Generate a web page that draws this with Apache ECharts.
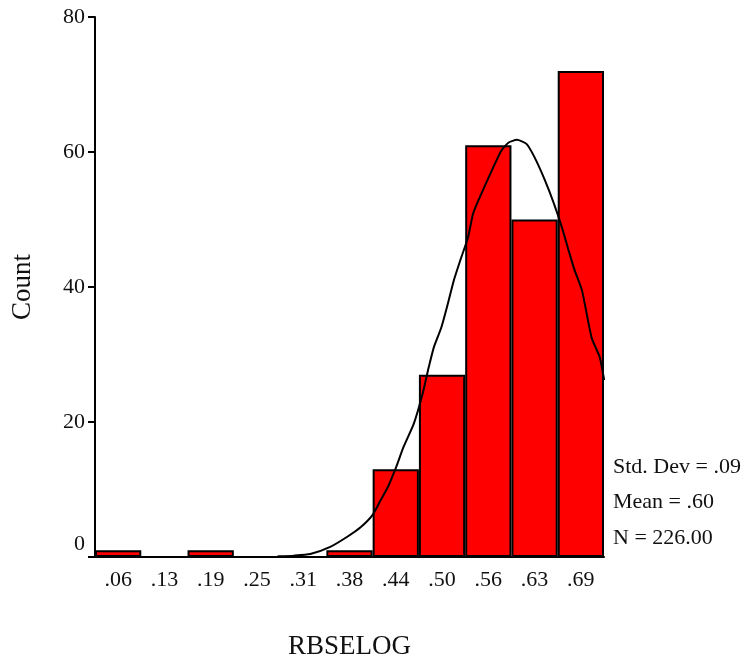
<!DOCTYPE html>
<html>
<head>
<meta charset="utf-8">
<script src="https://cdn.jsdelivr.net/npm/echarts@6/dist/echarts.min.js"></script>
<style>
  html, body { margin: 0; padding: 0; background: #fff; }
  #chart { width: 746px; height: 657px; }
</style>
</head>
<body>
<div id="chart"></div>
<script>
// bin labels (bin width .0625)
const bins = ['.06', '.13', '.19', '.25', '.31', '.38', '.44', '.50', '.56', '.63', '.69']
const counts = [1, 0, 1, 0, 0, 1, 13, 27, 61, 50, 72]

// normal curve
const curveX = [0.278, 0.300, 0.322, 0.349, 0.372, 0.390, 0.406, 0.417, 0.427, 0.438, 0.448, 0.462,
  0.474, 0.482, 0.489, 0.499, 0.508, 0.516, 0.526, 0.535, 0.542, 0.553, 0.567, 0.580, 0.590,
  0.601, 0.614, 0.625, 0.639, 0.651, 0.662, 0.671, 0.679, 0.689, 0.702, 0.713, 0.719]
const curveY = [0.1, 0.2, 0.44, 1.5, 3.0, 4.4, 6.2, 8.4, 10.4, 13.3, 16.3, 19.8,
  24.3, 28.1, 31.1, 34.0, 37.6, 41.0, 44.4, 47.3, 50.9, 53.8, 57.2, 60.2, 61.4,
  61.8, 61.2, 59.2, 55.8, 52.4, 48.8, 45.4, 42.5, 39.5, 32.5, 29.6, 26.2]

const stats = ['Std. Dev = .09', 'Mean = .60', 'N = 226.00']

const FONT = '"Liberation Serif", "Times New Roman", serif'
const chart = echarts.init(document.getElementById('chart'))

const option = {
  animation: false,
  backgroundColor: '#fff',
  grid: {
    left: 95,
    right: 142,
    top: 17,
    bottom: 100,
    outerBoundsMode: 'none'
  },
  xAxis: [{
    type: 'category',
    data: bins,
    boundaryGap: true,
    name: 'RBSELOG',
    nameLocation: 'middle',
    nameGap: 76,
    nameTextStyle: { fontFamily: FONT, fontSize: 27, color: '#111' },
    axisLine: { lineStyle: { color: '#000', width: 2 } },
    axisTick: { alignWithLabel: true, length: 6, lineStyle: { color: '#000', width: 2 } },
    axisLabel: { fontFamily: FONT, fontSize: 22, color: '#111', margin: 12 }
  }, {
    type: 'value',
    min: 0.03125,
    max: 0.71875,
    show: false
  }],
  yAxis: {
    type: 'value',
    min: 0,
    max: 80,
    interval: 20,
    name: 'Count',
    nameLocation: 'middle',
    nameGap: 59,
    nameTextStyle: { fontFamily: FONT, fontSize: 27, color: '#111' },
    axisLine: { show: true, lineStyle: { color: '#000', width: 2 } },
    axisTick: { show: true, length: 7, lineStyle: { color: '#000', width: 2 } },
    splitLine: { show: false },
    axisLabel: {
      fontFamily: FONT,
      fontSize: 22,
      color: '#111',
      margin: 10,
      formatter: v => v === 0 ? '{z|0}' : String(v),
      rich: {
        z: { fontFamily: FONT, fontSize: 22, color: '#111', padding: [0, 0, 26, 0] }
      }
    }
  },
  graphic: stats.map((t, i) => ({
    type: 'text',
    x: 613,
    y: 467 + i * 35.5,
    style: { text: t, fontFamily: FONT, fontSize: 22, fill: '#111', verticalAlign: 'middle' }
  })),
  series: [{
    type: 'bar',
    data: counts.map(v => v === 0 ? null : v),
    barWidth: '100%',
    barCategoryGap: 0,
    itemStyle: { color: '#ff0000', borderColor: '#000', borderWidth: 2 },
    z: 2
  }, {
    type: 'line',
    xAxisIndex: 1,
    data: curveX.map((x, i) => [x, curveY[i]]),
    smooth: 0.2,
    symbol: 'none',
    lineStyle: { color: '#000', width: 2 },
    z: 3
  }]
}

chart.setOption(option)
</script>
</body>
</html>
